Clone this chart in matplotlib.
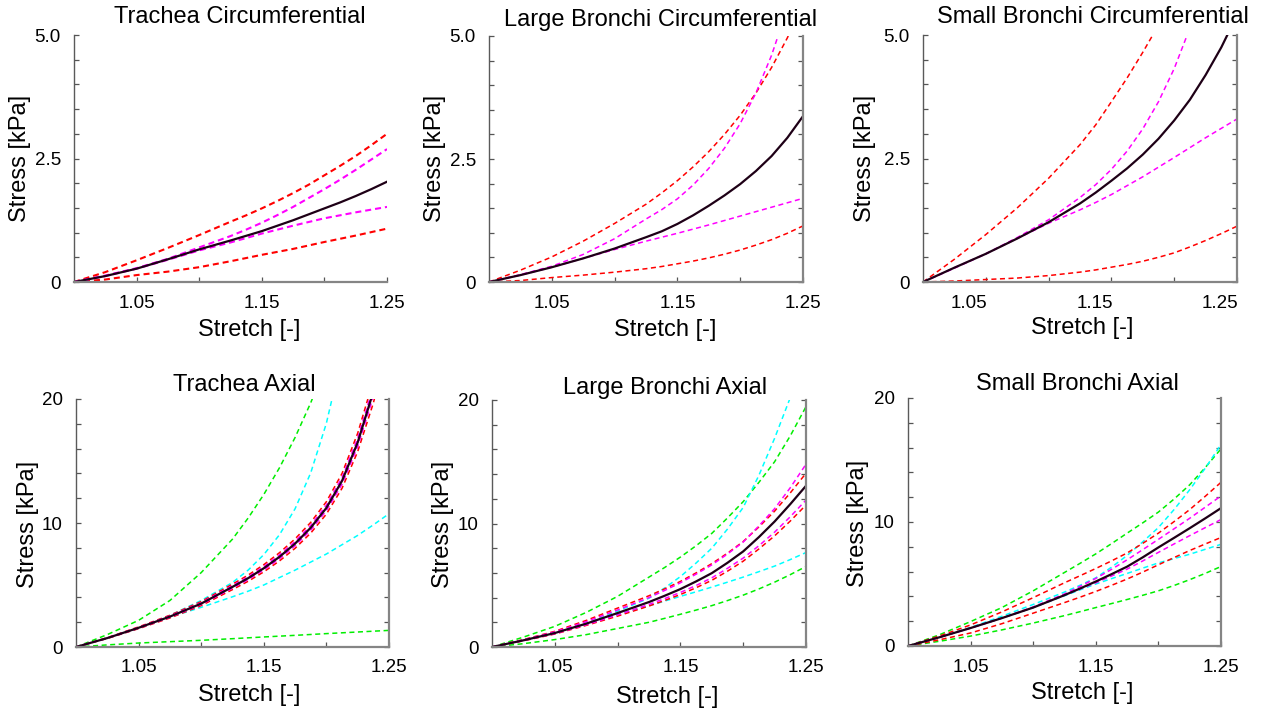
import matplotlib
matplotlib.use("Agg")
import matplotlib.pyplot as plt
from matplotlib.transforms import ScaledTranslation

plt.rcParams['font.family'] = ['Liberation Sans', 'DejaVu Sans']

# ---------------- data ----------------
STRETCH = [1.0, 1.025, 1.05, 1.075, 1.10, 1.125, 1.1375, 1.15, 1.1625, 1.175,
           1.1875, 1.20, 1.2125, 1.225, 1.2375, 1.25]
X_TICKS = [1.05, 1.15, 1.25]
X_TICK_LABELS = ["1.05", "1.15", "1.25"]
CIRC_Y_TICKS = [0, 2.5, 5.0]
CIRC_Y_LABELS = ["0", "2.5", "5.0"]
AXIAL_Y_TICKS = [0, 10, 20]
AXIAL_Y_LABELS = ["0", "10", "20"]
TITLES = ["Trachea Circumferential", "Large Bronchi Circumferential", "Small Bronchi Circumferential",
          "Trachea Axial", "Large Bronchi Axial", "Small Bronchi Axial"]

# Trachea circumferential
tc_mean = [0, 0.12, 0.27, 0.46, 0.66, 0.84, 0.935, 1.03, 1.14, 1.25, 1.37, 1.49, 1.61, 1.74, 1.88, 2.03]
tc_red_hi = [0, 0.20, 0.44, 0.69, 0.95, 1.22, 1.35, 1.49, 1.64, 1.80, 1.97, 2.16, 2.35, 2.55, 2.77, 3.0]
tc_mag_hi = [0, 0.13, 0.28, 0.47, 0.70, 0.93, 1.06, 1.20, 1.355, 1.52, 1.70, 1.88, 2.07, 2.27, 2.48, 2.69]
tc_mag_lo = [0, 0.12, 0.27, 0.45, 0.64, 0.80, 0.89, 0.98, 1.06, 1.14, 1.215, 1.29, 1.35, 1.41, 1.465, 1.52]
tc_red_lo = [0, 0.05, 0.14, 0.21, 0.30, 0.42, 0.485, 0.55, 0.61, 0.67, 0.74, 0.81, 0.875, 0.94, 1.01, 1.08]

# Large bronchi circumferential
lc_mean = [0, 0.14, 0.30, 0.48, 0.68, 0.91, 1.03, 1.18, 1.355, 1.55, 1.76, 1.99, 2.255, 2.56, 2.93, 3.37]
lc_red_hi = [0, 0.24, 0.51, 0.83, 1.19, 1.58, 1.81, 2.06, 2.34, 2.65, 3.00, 3.39, 3.84, 4.36, 4.96, 5.66]
lc_mag_hi = [0, 0.15, 0.32, 0.56, 0.88, 1.28, 1.47, 1.69, 1.97, 2.31, 2.72, 3.22, 3.84, 4.61, 5.56, 6.76]
lc_mag_lo = [0, 0.14, 0.30, 0.48, 0.66, 0.83, 0.91, 0.99, 1.075, 1.16, 1.25, 1.34, 1.43, 1.52, 1.61, 1.70]
lc_red_lo = [0, 0.03, 0.09, 0.14, 0.20, 0.27, 0.315, 0.37, 0.425, 0.49, 0.565, 0.65, 0.75, 0.86, 0.99, 1.14]

# Small bronchi circumferential
sc_mean = [0, 0.29, 0.57, 0.88, 1.21, 1.59, 1.81, 2.05, 2.30, 2.58, 2.90, 3.27, 3.69, 4.19, 4.75, 5.40]
sc_red_hi = [0, 0.46, 0.96, 1.50, 2.10, 2.78, 3.18, 3.65, 4.13, 4.65, 5.20, 5.80, 6.45, 7.15, 7.90, 8.70]
sc_mag_hi = [0, 0.28, 0.57, 0.90, 1.26, 1.71, 1.97, 2.28, 2.65, 3.10, 3.65, 4.32, 5.14, 6.14, 7.30, 8.70]
sc_mag_lo = [0, 0.29, 0.57, 0.88, 1.19, 1.46, 1.61, 1.77, 1.95, 2.13, 2.325, 2.52, 2.72, 2.92, 3.11, 3.30]
sc_red_lo = [0, 0.02, 0.05, 0.08, 0.13, 0.20, 0.245, 0.30, 0.355, 0.42, 0.50, 0.59, 0.71, 0.84, 0.98, 1.13]

# Trachea axial
ta_mean = [0, 0.72, 1.55, 2.45, 3.50, 4.85, 5.55, 6.35, 7.27, 8.34, 9.62, 11.22, 13.4, 16.5, 20.6, 26.0]
ta_red_hi = [0, 0.75, 1.62, 2.56, 3.66, 5.07, 5.80, 6.64, 7.60, 8.72, 10.05, 11.72, 14.0, 17.24, 21.5, 27.2]
ta_mag_hi = [0, 0.73, 1.58, 2.50, 3.57, 4.95, 5.66, 6.48, 7.42, 8.51, 9.81, 11.44, 13.67, 16.83, 21.0, 26.5]
ta_mag_lo = [0, 0.71, 1.52, 2.40, 3.43, 4.75, 5.44, 6.22, 7.12, 8.17, 9.43, 11.0, 13.13, 16.17, 20.2, 25.5]
ta_red_lo = [0, 0.69, 1.48, 2.34, 3.34, 4.63, 5.30, 6.06, 6.94, 7.96, 9.19, 10.72, 12.8, 15.76, 19.67, 24.8]
ta_cyan_hi = [0, 0.72, 1.55, 2.55, 3.75, 5.20, 6.20, 7.45, 9.05, 11.15, 14.05, 18.05, 23.5, 30.5, 39.0, 50.0]
ta_cyan_lo = [0, 0.72, 1.50, 2.40, 3.20, 4.05, 4.50, 5.00, 5.60, 6.20, 6.85, 7.50, 8.25, 9.00, 9.85, 10.75]
ta_green_hi = [0, 1.00, 2.15, 3.75, 6.00, 8.70, 10.4, 12.3, 14.45, 16.9, 19.7, 22.9, 26.6, 31.0, 36.0, 42.0]
ta_green_lo = [0, 0.17, 0.32, 0.43, 0.54, 0.67, 0.74, 0.81, 0.875, 0.94, 1.01, 1.08, 1.145, 1.21, 1.275, 1.34]

# Large bronchi axial
la_mean = [0, 0.54, 1.13, 1.89, 2.75, 3.64, 4.15, 4.69, 5.31, 5.98, 6.82, 7.74, 8.90, 10.16, 11.57, 13.05]
la_red_hi = [0, 0.60, 1.27, 2.15, 3.15, 4.15, 4.71, 5.31, 6.00, 6.75, 7.60, 8.54, 9.72, 11.0, 12.48, 14.07]
la_mag_hi = [0, 0.58, 1.22, 2.05, 3.00, 4.00, 4.58, 5.20, 5.90, 6.65, 7.53, 8.50, 9.80, 11.2, 12.9, 14.8]
la_mag_lo = [0, 0.52, 1.08, 1.80, 2.60, 3.45, 3.92, 4.42, 4.98, 5.60, 6.37, 7.20, 8.20, 9.30, 10.55, 11.9]
la_red_lo = [0, 0.50, 1.05, 1.75, 2.50, 3.32, 3.77, 4.25, 4.80, 5.40, 6.14, 6.95, 7.94, 9.00, 10.2, 11.5]
la_cyan_hi = [0, 0.54, 1.13, 1.89, 2.90, 3.95, 4.78, 5.70, 6.80, 8.00, 9.55, 11.3, 13.9, 16.9, 20.2, 24.0]
la_cyan_lo = [0, 0.54, 1.10, 1.85, 2.62, 3.34, 3.72, 4.10, 4.47, 4.85, 5.25, 5.66, 6.10, 6.55, 7.08, 7.65]
la_green_hi = [0, 0.80, 1.67, 2.80, 4.10, 5.66, 6.44, 7.28, 8.20, 9.20, 10.45, 11.77, 13.33, 15.0, 17.1, 19.46]
la_green_lo = [0, 0.27, 0.60, 1.00, 1.50, 2.00, 2.32, 2.65, 2.99, 3.35, 3.76, 4.20, 4.70, 5.25, 5.86, 6.52]

# Small bronchi axial
sa_mean = [0, 0.70, 1.45, 2.25, 3.10, 4.10, 4.64, 5.20, 5.79, 6.40, 7.15, 7.95, 8.72, 9.50, 10.3, 11.12]
sa_red_hi = [0, 0.80, 1.70, 2.75, 3.90, 5.10, 5.67, 6.25, 6.86, 7.50, 8.28, 9.10, 10.03, 11.0, 12.08, 13.2]
sa_mag_hi = [0, 0.70, 1.45, 2.25, 3.15, 4.20, 4.81, 5.45, 6.18, 6.95, 7.77, 8.60, 9.45, 10.3, 11.2, 12.1]
sa_mag_lo = [0, 0.70, 1.45, 2.25, 3.10, 4.10, 4.60, 5.10, 5.64, 6.20, 6.86, 7.55, 8.23, 8.90, 9.55, 10.2]
sa_red_lo = [0, 0.50, 1.05, 1.80, 2.65, 3.50, 3.94, 4.40, 4.89, 5.40, 5.96, 6.55, 7.13, 7.70, 8.23, 8.75]
sa_cyan_hi = [0, 0.70, 1.50, 2.40, 3.35, 4.35, 4.90, 5.50, 6.35, 7.30, 8.40, 9.55, 11.0, 12.6, 14.35, 16.25]
sa_cyan_lo = [0, 0.70, 1.45, 2.25, 3.10, 4.05, 4.53, 5.00, 5.43, 5.85, 6.28, 6.70, 7.05, 7.40, 7.80, 8.20]
sa_green_hi = [0, 0.90, 1.97, 3.10, 4.45, 5.93, 6.67, 7.43, 8.25, 9.10, 9.93, 10.8, 11.85, 13.0, 14.4, 15.9]
sa_green_lo = [0, 0.38, 0.80, 1.30, 1.85, 2.45, 2.77, 3.10, 3.42, 3.75, 4.09, 4.45, 4.88, 5.35, 5.86, 6.41]

# ---------------- styling ----------------
RED, MAG, CYAN, GREEN, BLACK = '#ff0000', '#ff00ff', '#00ffff', '#00ee00', '#1e0016'
W, H = 1268, 711
fig = plt.figure(figsize=(W / 100, H / 100), dpi=100)

# axes boxes in pixels: left, right, top, bottom
boxes = [(74, 387, 35, 282), (489, 803, 36, 282), (923, 1237, 35, 282),
         (76, 389, 399, 647), (492, 806, 400, 647), (908, 1221, 398, 646)]
title_pos = [(240, 17), (661, 20), (1093, 17), (244, 385), (665, 388), (1077, 384)]
ylabel_pos = [(20, 158), (435, 158), (865, 158), (28, 524), (443, 524), (858, 523)]
xlabel_pos = [(249, 330), (665, 330), (1082, 328), (249, 695), (667, 697), (1082, 693)]

panels = [
    [(tc_red_hi, RED), (tc_red_lo, RED), (tc_mag_hi, MAG), (tc_mag_lo, MAG)],
    [(lc_red_hi, RED), (lc_red_lo, RED), (lc_mag_hi, MAG), (lc_mag_lo, MAG)],
    [(sc_red_hi, RED), (sc_red_lo, RED), (sc_mag_hi, MAG), (sc_mag_lo, MAG)],
    [(ta_green_hi, GREEN), (ta_green_lo, GREEN), (ta_cyan_hi, CYAN), (ta_cyan_lo, CYAN),
     (ta_red_hi, RED), (ta_red_lo, RED), (ta_mag_hi, MAG), (ta_mag_lo, MAG)],
    [(la_green_hi, GREEN), (la_green_lo, GREEN), (la_cyan_hi, CYAN), (la_cyan_lo, CYAN),
     (la_red_hi, RED), (la_red_lo, RED), (la_mag_hi, MAG), (la_mag_lo, MAG)],
    [(sa_green_hi, GREEN), (sa_green_lo, GREEN), (sa_cyan_hi, CYAN), (sa_cyan_lo, CYAN),
     (sa_red_hi, RED), (sa_red_lo, RED), (sa_mag_hi, MAG), (sa_mag_lo, MAG)],
]
means = [tc_mean, lc_mean, sc_mean, ta_mean, la_mean, sa_mean]

for i in range(6):
    l, r, t, b = boxes[i]
    ax = fig.add_axes([l / W, 1 - b / H, (r - l) / W, (b - t) / H])
    circ = i < 3
    if i == 0:
        dlw, dpat = 1.5, (0, (2.9, 1.9))
    else:
        dlw, dpat = 1.1, (0, (3.3, 2.3))
    for vals, col in panels[i]:
        ax.plot(STRETCH, vals, color=col, lw=dlw, linestyle=dpat)
    ax.plot(STRETCH, means[i], color=BLACK, lw=1.6)

    ax.set_xlim(1.0, 1.25)
    if circ:
        ax.set_ylim(0, 5.0)
        ax.set_yticks(CIRC_Y_TICKS)
        ax.set_yticklabels(CIRC_Y_LABELS)
        ax.set_yticks([0.5 * k for k in range(11)], minor=True)
    else:
        ax.set_ylim(0, 20)
        ax.set_yticks(AXIAL_Y_TICKS)
        ax.set_yticklabels(AXIAL_Y_LABELS)
        ax.set_yticks([2 * k for k in range(11)], minor=True)
    ax.set_xticks(X_TICKS)
    ax.set_xticklabels(X_TICK_LABELS)
    ax.set_xticks([1.10, 1.20], minor=True)

    ax.spines['top'].set_visible(False)
    ax.spines['left'].set_color('#5a5a5a')
    ax.spines['left'].set_linewidth(1.0)
    ax.spines['bottom'].set_color('#858585')
    ax.spines['bottom'].set_linewidth(1.6)
    if i == 0:
        ax.spines['right'].set_visible(False)
    else:
        ax.spines['right'].set_color('#858585')
        ax.spines['right'].set_linewidth(1.6)

    ax.tick_params(axis='both', which='both', direction='in', length=3.5, width=0.9,
                   colors='#555555', labelcolor='black', labelsize=13.5)
    ax.tick_params(axis='y', which='both', pad=9.5, right=(i != 0), labelright=False)
    ax.tick_params(axis='x', which='both', pad=9, top=False)
    ax.patch.set_alpha(0)

    if i == 2:
        for lab in ax.get_xticklabels():
            lab.set_transform(lab.get_transform() + ScaledTranslation(-0.17, 0, fig.dpi_scale_trans))

    def frac(p):
        return ((p[0] - l) / (r - l), (b - p[1]) / (b - t))

    ax.text(*frac(title_pos[i]), TITLES[i], transform=ax.transAxes, ha='center', va='center',
            fontsize=17)
    ax.text(*frac(ylabel_pos[i]), "Stress [kPa]", transform=ax.transAxes, ha='center',
            va='center', rotation=90, fontsize=17)
    ax.text(*frac(xlabel_pos[i]), "Stretch [-]", transform=ax.transAxes, ha='center',
            va='center', fontsize=17)

fig.savefig("out.png", dpi=100, facecolor='white')
